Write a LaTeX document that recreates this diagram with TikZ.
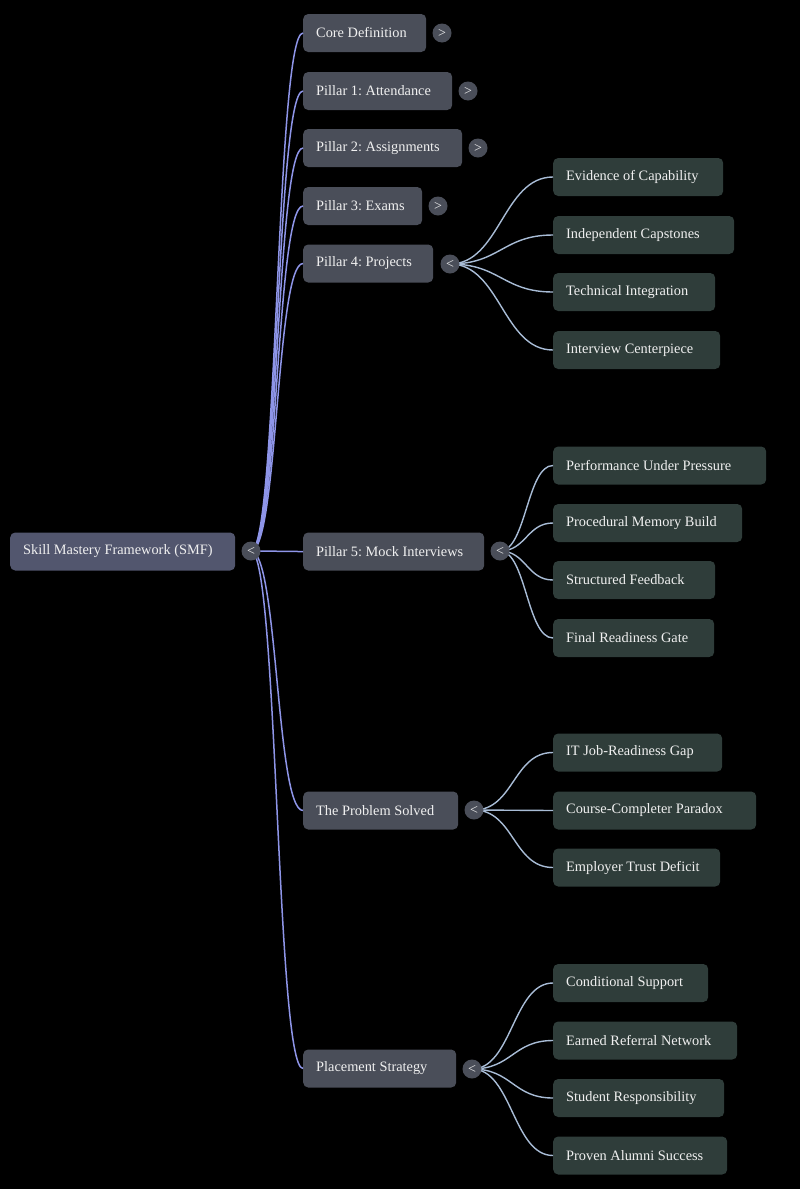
\documentclass[tikz,border=0pt]{standalone}
\usepackage{fontspec}
\setmainfont{Liberation Serif}
\frenchspacing
\definecolor{bgc}{HTML}{000000}
\definecolor{rootfill}{HTML}{52566E}
\definecolor{lonefill}{HTML}{4A4E59}
\definecolor{ltwofill}{HTML}{2F3D3A}
\definecolor{btnfill}{HTML}{4A4E59}
\definecolor{rootline}{HTML}{8E95E8}
\definecolor{subline}{HTML}{A8BCD6}
\definecolor{txt}{HTML}{F0F0F0}
\newcommand\bx[2]{\makebox[#1pt][l]{#2}}
\tikzset{
  box/.style={rounded corners=5pt, anchor=west, minimum height=38pt, inner xsep=13pt, inner ysep=0pt, text=txt, font=\fontsize{14.35}{17}\selectfont},
  rootbox/.style={box, fill=rootfill},
  lonebox/.style={box, fill=lonefill},
  ltwobox/.style={box, fill=ltwofill},
  btn/.style={circle, fill=btnfill, minimum size=19pt, inner sep=0pt, text=txt, font=\fontsize{14}{14}\selectfont},
  rootedge/.style={draw=rootline, line width=1.5pt},
  subedge/.style={draw=subline, line width=1.4pt},
}
\begin{document}
\begin{tikzpicture}[x=1pt, y=-1pt]
\fill[bgc] (0,0) rectangle (800,1189);
\useasboundingbox (0,0) rectangle (800,1189);
% root
\node[rootbox] (smf) at (10,551.5) {\bx{199}{Skill Mastery Framework (SMF)}};
% level 1
\node[lonebox] (core) at (303,33) {\bx{97}{Core Definition}};
\node[lonebox] (p1) at (303,91) {\bx{123}{Pillar 1: Attendance}};
\node[lonebox] (p2) at (303,148) {\bx{133}{Pillar 2: Assignments}};
\node[lonebox] (p3) at (303,206) {\bx{93}{Pillar 3: Exams}};
\node[lonebox] (p4) at (303,263.5) {\bx{104}{Pillar 4: Projects}};
\node[lonebox] (p5) at (303,551.5) {\bx{155}{Pillar 5: Mock Interviews}};
\node[lonebox] (prob) at (303,810.5) {\bx{129}{The Problem Solved}};
\node[lonebox] (place) at (303,1068.5) {\bx{127}{Placement Strategy}};
% level 2
\node[ltwobox] (ev) at (553,177) {\bx{144}{Evidence of Capability}};
\node[ltwobox] (ic) at (553,235) {\bx{155}{Independent Capstones}};
\node[ltwobox] (ti) at (553,292) {\bx{136}{Technical Integration}};
\node[ltwobox] (icp) at (553,350) {\bx{141}{Interview Centerpiece}};
\node[ltwobox] (pup) at (553,465.5) {\bx{187}{Performance Under Pressure}};
\node[ltwobox] (pmb) at (553,523) {\bx{163}{Procedural Memory Build}};
\node[ltwobox] (sf) at (553,580) {\bx{136}{Structured Feedback}};
\node[ltwobox] (frg) at (553,638) {\bx{135}{Final Readiness Gate}};
\node[ltwobox] (itj) at (553,752.5) {\bx{143}{IT Job-Readiness Gap}};
\node[ltwobox] (ccp) at (553,810.5) {\bx{177}{Course-Completer Paradox}};
\node[ltwobox] (etd) at (553,867.5) {\bx{141}{Employer Trust Deficit}};
\node[ltwobox] (cs) at (553,983) {\bx{129}{Conditional Support}};
\node[ltwobox] (ern) at (553,1040.5) {\bx{158}{Earned Referral Network}};
\node[ltwobox] (sr) at (553,1098) {\bx{145}{Student Responsibility}};
\node[ltwobox] (pas) at (553,1155.5) {\bx{148}{Proven Alumni Success}};
% button coordinates
\coordinate (c0) at (251,551);
\coordinate (c4) at (450,264);
\coordinate (c5) at (500,551);
\coordinate (c6) at (474,810);
\coordinate (c7) at (472,1069);
% root edges
\foreach \t in {core,p1,p2,p3,p4,p5,prob,place}
  \draw[rootedge] (c0) .. controls +(27,0) and +(-27,0) .. (\t.west);
% sub edges
\foreach \t in {ev,ic,ti,icp}
  \draw[subedge] (c4) .. controls +(50,0) and +(-50,0) .. (\t.west);
\foreach \t in {pup,pmb,sf,frg}
  \draw[subedge] (c5) .. controls +(26,0) and +(-26,0) .. (\t.west);
\foreach \t in {itj,ccp,etd}
  \draw[subedge] (c6) .. controls +(40,0) and +(-40,0) .. (\t.west);
\foreach \t in {cs,ern,sr,pas}
  \draw[subedge] (c7) .. controls +(40,0) and +(-40,0) .. (\t.west);
% buttons
\node[btn] (b0) at (c0) {<};
\node[btn] (b1) at (442,33) {>};
\node[btn] (b2) at (468,91) {>};
\node[btn] (b3) at (478,148) {>};
\node[btn] (b3b) at (438,206) {>};
\node[btn] (b4) at (c4) {<};
\node[btn] (b5) at (c5) {<};
\node[btn] (b6) at (c6) {<};
\node[btn] (b7) at (c7) {<};
\end{tikzpicture}
\end{document}
